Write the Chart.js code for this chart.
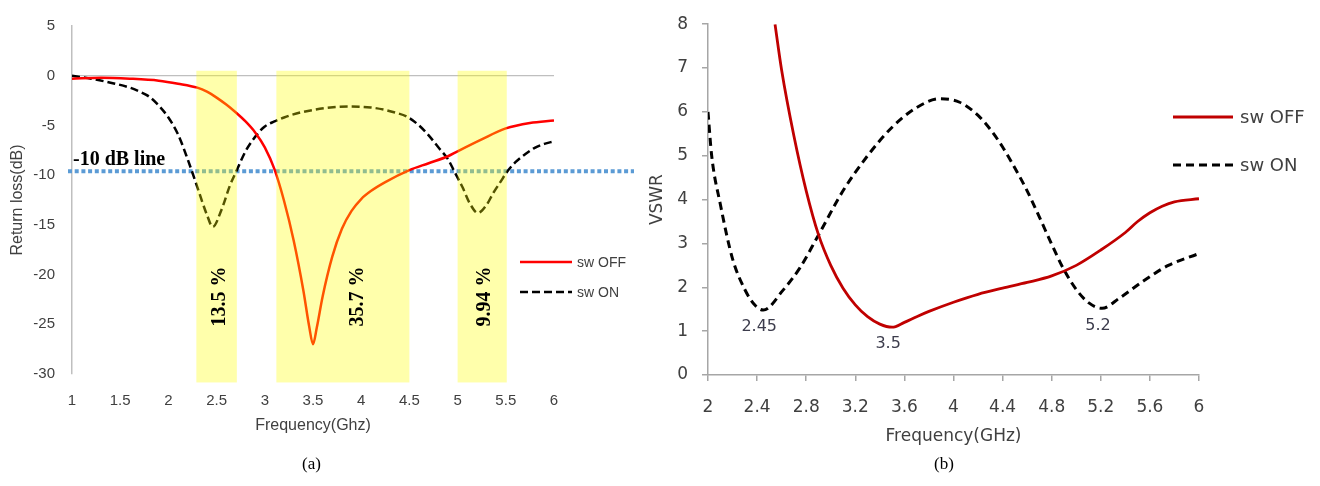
<!DOCTYPE html>
<html>
<head>
<meta charset="utf-8">
<script src="https://cdn.jsdelivr.net/npm/chart.js@4/dist/chart.umd.min.js"></script>
<style>
html,body{margin:0;padding:0;background:#fff;width:1320px;height:486px;overflow:hidden}
canvas{position:absolute;top:0}
#cA{left:0}
#cB{left:630px}
.cap{position:absolute;top:454px;font:17px "Liberation Serif",serif;color:#000}
</style>
</head>
<body>
<canvas id="cA" width="660" height="486"></canvas>
<canvas id="cB" width="690" height="486"></canvas>
<div class="cap" style="left:302px">(a)</div>
<div class="cap" style="left:934px">(b)</div>
<script>
// (a) return loss
const freqOffA=[1,1.3,1.6,1.9,2.1,2.3,2.4,2.5,2.6,2.7,2.8,2.9,3,3.1,3.2,3.3,3.4,3.46,3.5,3.54,3.6,3.7,3.8,3.9,4,4.1,4.25,4.5,4.7,4.9,5,5.25,5.5,5.75,6];
const rlOff=[-0.3,-0.2,-0.3,-0.5,-0.8,-1.2,-1.6,-2.2,-2.9,-3.7,-4.6,-5.7,-7.2,-9.4,-12.6,-16.6,-21.6,-25.2,-27,-25.3,-22.2,-18.2,-15.4,-13.6,-12.4,-11.6,-10.7,-9.5,-8.8,-8.1,-7.6,-6.4,-5.3,-4.75,-4.5];
const freqOnA=[1,1.2,1.4,1.6,1.7,1.8,1.9,2,2.1,2.2,2.3,2.4,2.46,2.55,2.64,2.71,2.8,2.92,3,3.1,3.2,3.37,3.68,3.88,4.1,4.23,4.35,4.47,4.6,4.7,4.8,4.9,4.97,5.05,5.13,5.21,5.3,5.37,5.45,5.51,5.6,5.7,5.8,5.9,6];
const rlOn=[0,-0.3,-0.7,-1.2,-1.6,-2.1,-3,-4.2,-5.9,-8.4,-11.2,-14,-15.2,-13.5,-11,-9.5,-7.6,-5.9,-5.1,-4.6,-4.2,-3.7,-3.2,-3.1,-3.2,-3.4,-3.7,-4.1,-5,-6,-7.2,-8.4,-9.7,-11.2,-12.9,-13.8,-13,-11.8,-10.6,-9.7,-8.7,-7.9,-7.25,-6.85,-6.6];
const xTicksA=[1,1.5,2,2.5,3,3.5,4,4.5,5,5.5,6];
const yTicksA=[5,0,-5,-10,-15,-20,-25,-30];
const levelA=-9.6;
const bandsA=[[2.29,2.71],[3.12,4.5],[5.0,5.51]];
const bandText=['13.5 %','35.7 %','9.94 %'];
const bandTextX=[2.53,3.96,5.28];

// (b) VSWR
const freqOffB=[2.546,2.6,2.7,2.8,2.9,3,3.1,3.2,3.3,3.4,3.5,3.6,3.7,3.8,4,4.2,4.4,4.6,4.8,5,5.2,5.4,5.5,5.6,5.7,5.8,6];
const vswrOff=[8,6.95,5.45,4.2,3.2,2.5,1.98,1.6,1.33,1.16,1.09,1.2,1.33,1.45,1.66,1.84,1.98,2.11,2.26,2.5,2.85,3.25,3.5,3.7,3.85,3.95,4.02];
const freqOnB=[2,2.03,2.1,2.2,2.3,2.38,2.45,2.61,2.75,2.89,3.1,3.3,3.5,3.7,3.89,4.05,4.2,4.3,4.4,4.5,4.6,4.7,4.8,4.9,5,5.1,5.21,5.35,5.55,5.75,6];
const vswrOn=[6,5,3.9,2.65,1.95,1.6,1.48,1.93,2.45,3.14,4.2,5,5.65,6.1,6.3,6.22,5.92,5.6,5.2,4.72,4.2,3.6,2.98,2.4,1.95,1.65,1.52,1.75,2.15,2.5,2.77];
const xTicksB=[2,2.4,2.8,3.2,3.6,4,4.4,4.8,5.2,5.6,6];
const yTicksB=[0,1,2,3,4,5,6,7,8];
const markLabels=[['sw ON',2.45,'2.45'],['sw OFF',3.5,'3.5'],['sw ON',5.21,'5.2']];

const pts=(xs,ys)=>xs.map((x,i)=>({x:x,y:ys[i]}));
const setTicks=arr=>s=>{s.ticks=arr.map(v=>({value:v}));};
const txt='#404040';

function legend(ctx,datasets,x0,x1,tx,ys,font){
  datasets.forEach((ds,i)=>{
    ctx.save();
    ctx.strokeStyle=ds.borderColor;
    ctx.lineWidth=ds.borderWidth;
    ctx.setLineDash(ds.borderDash||[]);
    ctx.beginPath();ctx.moveTo(x0,ys[i]);ctx.lineTo(x1,ys[i]);ctx.stroke();
    ctx.setLineDash([]);
    ctx.fillStyle=txt;ctx.font=font;ctx.textBaseline='middle';ctx.textAlign='left';
    ctx.fillText(ds.label,tx,ys[i]+1);
    ctx.restore();
  });
}

const annA={
  id:'annA',
  beforeDatasetsDraw(c){
    const ctx=c.ctx,y=c.scales.y.getPixelForValue(levelA);
    ctx.save();
    ctx.strokeStyle='#5B9BD5';ctx.lineWidth=4;ctx.setLineDash([4,2.7]);
    ctx.beginPath();ctx.moveTo(c.chartArea.left-4,y);ctx.lineTo(c.chartArea.right+80,y);ctx.stroke();
    ctx.restore();
  },
  afterDatasetsDraw(c){
    const ctx=c.ctx,xs=c.scales.x,ys=c.scales.y;
    ctx.save();
    ctx.fillStyle='rgba(255,255,0,0.33)';
    const t=ys.getPixelForValue(0.5),b=ys.getPixelForValue(-30.85);
    bandsA.forEach(bd=>{
      const l=xs.getPixelForValue(bd[0]),r=xs.getPixelForValue(bd[1]);
      ctx.fillRect(l,t,r-l,b-t);
    });
    ctx.fillStyle='#000';
    ctx.font='bold 20px "Liberation Serif", serif';
    ctx.textAlign='center';ctx.textBaseline='middle';
    bandText.forEach((s,i)=>{
      ctx.save();
      ctx.translate(xs.getPixelForValue(bandTextX[i]),ys.getPixelForValue(-22.2));
      ctx.rotate(-Math.PI/2);
      ctx.fillText(s,0,0);
      ctx.restore();
    });
    ctx.textAlign='left';ctx.textBaseline='alphabetic';
    ctx.fillText('-10 dB line',c.chartArea.left+1,ys.getPixelForValue(levelA)-6);
    ctx.restore();
    const r=c.chartArea.right;
    legend(ctx,c.data.datasets,r-34,r+18,r+23,[262,292],'14px "Liberation Sans", Arial, sans-serif');
  }
};

const annB={
  id:'annB',
  afterDatasetsDraw(c){
    const ctx=c.ctx,xs=c.scales.x,ys=c.scales.y;
    ctx.save();
    ctx.fillStyle='#3c3c4c';
    ctx.font='16px "DejaVu Sans", sans-serif';
    ctx.textAlign='center';ctx.textBaseline='middle';
    markLabels.forEach(m=>{
      const ds=c.data.datasets.find(d=>d.label===m[0]);
      let best=ds.data[0];
      ds.data.forEach(p=>{if(Math.abs(p.x-m[1])<Math.abs(best.x-m[1]))best=p;});
      ctx.fillText(m[2],xs.getPixelForValue(best.x)-4,ys.getPixelForValue(best.y)+17);
    });
    ctx.restore();
    const r=c.chartArea.right;
    legend(ctx,c.data.datasets,r-26,r+34,r+41,[117,165],'18px "DejaVu Sans", sans-serif');
  }
};

const fontA={family:'"Liberation Sans", Arial, sans-serif',size:15};
new Chart(document.getElementById('cA'),{
  type:'line',
  data:{datasets:[
    {label:'sw OFF',data:pts(freqOffA,rlOff),borderColor:'#FF0000',borderWidth:2.5,pointRadius:0,cubicInterpolationMode:'monotone',fill:false},
    {label:'sw ON',data:pts(freqOnA,rlOn),borderColor:'#000000',borderWidth:2.5,borderDash:[8,4],pointRadius:0,cubicInterpolationMode:'monotone',fill:false}
  ]},
  options:{
    responsive:false,animation:false,devicePixelRatio:1,
    layout:{padding:{left:0,right:106,top:13,bottom:0}},
    plugins:{legend:{display:false},tooltip:{enabled:false}},
    scales:{
      x:{type:'linear',min:1,max:6,afterBuildTicks:setTicks(xTicksA),afterFit:s=>{s.height=112;},
        grid:{display:false,drawTicks:false},border:{display:false},
        ticks:{padding:18,color:txt,font:fontA,maxRotation:0,autoSkip:false,callback:v=>String(v)},
        title:{display:true,text:'Frequency(Ghz)',color:txt,font:{family:fontA.family,size:16},padding:{top:0,bottom:51}}},
      y:{type:'linear',min:-30,max:5,afterBuildTicks:setTicks(yTicksA),afterFit:s=>{s.width=72;},
        grid:{drawTicks:false,color:cx=>cx.tick&&cx.tick.value===0?'#bfbfbf':'rgba(0,0,0,0)',lineWidth:1.3},
        border:{display:true,color:'#bfbfbf',width:1.5},
        ticks:{padding:17,color:txt,font:fontA,callback:v=>String(v)},
        title:{display:true,text:'Return loss(dB)',color:txt,font:{family:fontA.family,size:16},padding:{top:8,bottom:0}}}
    }
  },
  plugins:[annA]
});

const fontB={family:'"DejaVu Sans", sans-serif',size:17};
new Chart(document.getElementById('cB'),{
  type:'line',
  data:{datasets:[
    {label:'sw OFF',data:pts(freqOffB,vswrOff),borderColor:'#C00000',borderWidth:2.8,pointRadius:0,cubicInterpolationMode:'monotone',fill:false},
    {label:'sw ON',data:pts(freqOnB,vswrOn),borderColor:'#000000',borderWidth:3,borderDash:[8,5],pointRadius:0,cubicInterpolationMode:'monotone',fill:false}
  ]},
  options:{
    responsive:false,animation:false,devicePixelRatio:1,
    layout:{padding:{left:0,right:121,top:23,bottom:0}},
    plugins:{legend:{display:false},tooltip:{enabled:false}},
    scales:{
      x:{type:'linear',min:2,max:6,afterBuildTicks:setTicks(xTicksB),afterFit:s=>{s.height=111;},
        grid:{drawOnChartArea:false,drawTicks:true,tickLength:6,color:'#a6a6a6',lineWidth:1.5},
        border:{display:true,color:'#a6a6a6',width:1.5},
        ticks:{padding:16,color:txt,font:fontB,maxRotation:0,autoSkip:false,callback:v=>String(+v.toFixed(1))},
        title:{display:true,text:'Frequency(GHz)',color:txt,font:fontB,padding:{top:0,bottom:39}}},
      y:{type:'linear',min:0,max:8,afterBuildTicks:setTicks(yTicksB),afterFit:s=>{s.width=78;},
        grid:{drawOnChartArea:false,drawTicks:true,tickLength:6,color:'#a6a6a6',lineWidth:1.5},
        border:{display:true,color:'#a6a6a6',width:1.5},
        ticks:{padding:14,color:txt,font:fontB,callback:v=>String(v)},
        title:{display:true,text:'VSWR',color:txt,font:fontB,padding:{top:17,bottom:0}}}
    }
  },
  plugins:[annB]
});
</script>
</body>
</html>
